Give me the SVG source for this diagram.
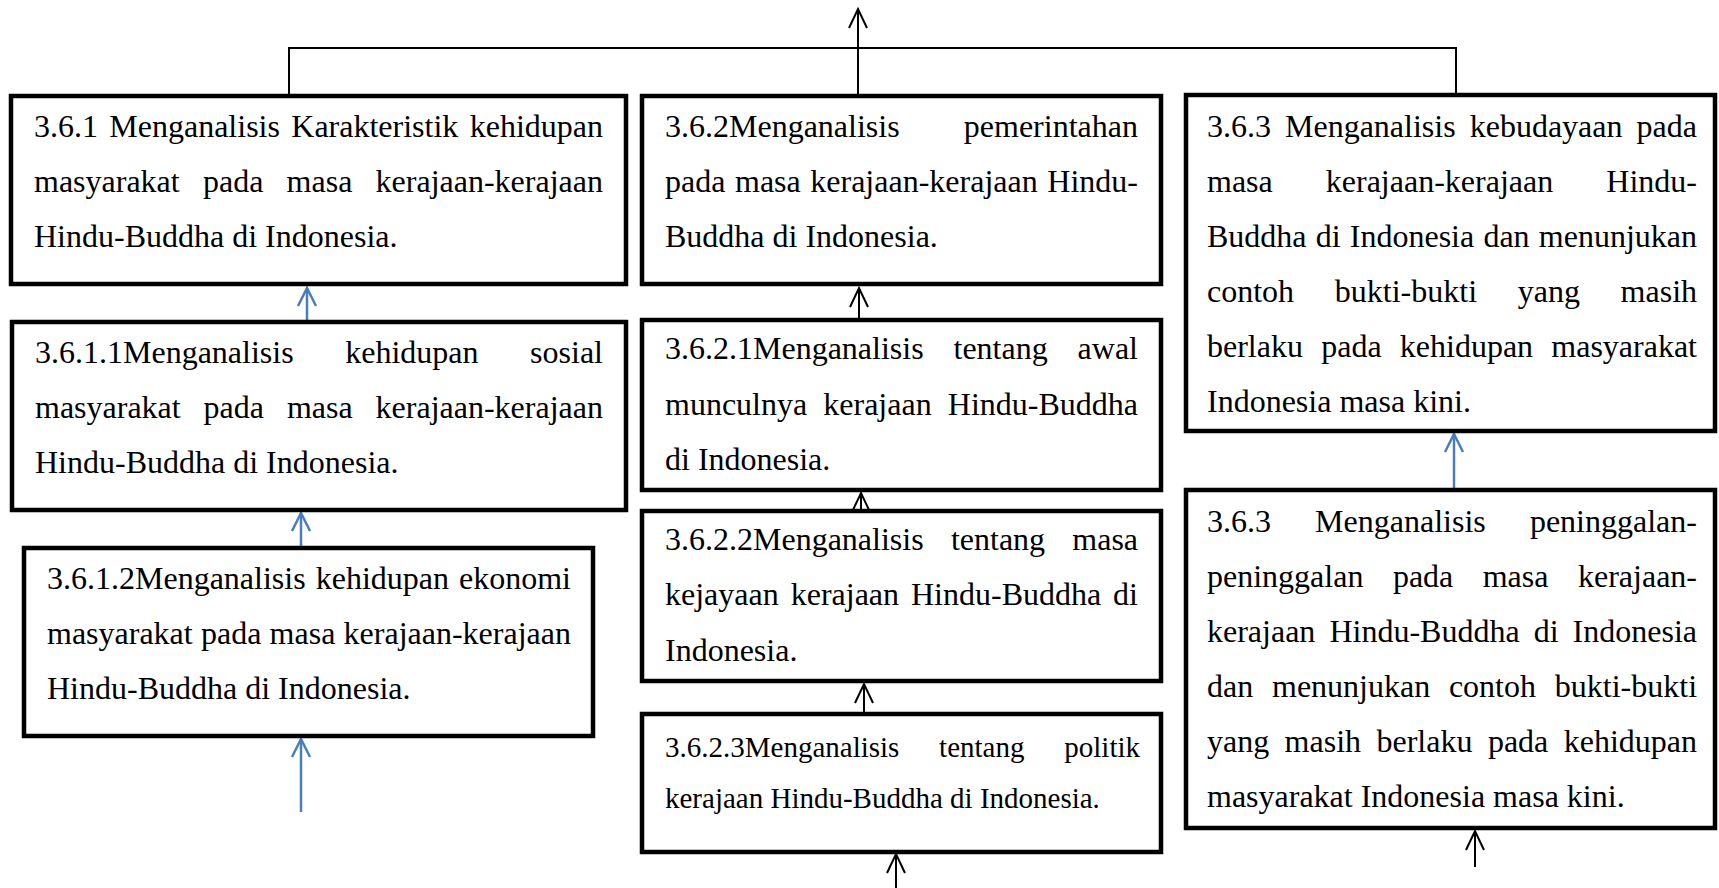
<svg xmlns="http://www.w3.org/2000/svg" width="1719" height="888" viewBox="0 0 1719 888">
  <style>
    .box { fill: #ffffff; stroke: #000000; stroke-width: 4.5; }
    .t { font-family: "Liberation Serif", "Times New Roman", serif; font-size: 32px; fill: #000000; }
    .ts { font-family: "Liberation Serif", "Times New Roman", serif; font-size: 29px; fill: #000000; }
    .wire { fill: none; stroke: #000000; stroke-width: 2; }
    .blk { fill: none; stroke: #000000; stroke-width: 2; marker-end: url(#headBlack); }
    .blu { fill: none; stroke: #4a7ebb; stroke-width: 2.5; marker-end: url(#headBlue); }
  </style>
  <defs>
    <marker id="headBlack" markerUnits="userSpaceOnUse" markerWidth="24" markerHeight="24" refX="0" refY="0" orient="auto" overflow="visible">
      <path d="M-19,-9 L0,0 L-19,9" fill="none" stroke="#000000" stroke-width="2"/>
    </marker>
    <marker id="headBlue" markerUnits="userSpaceOnUse" markerWidth="24" markerHeight="24" refX="0" refY="0" orient="auto" overflow="visible">
      <path d="M-18,-9 L0,0 L-18,9" fill="none" stroke="#4a7ebb" stroke-width="2.5"/>
    </marker>
  </defs>

  <rect x="0" y="0" width="1719" height="888" fill="#ffffff"/>

  <!-- connectors -->
  <g id="connectors">
    <path class="wire" d="M289,94 V48 H1456 V93" stroke-width="2.5"/>
    <path class="blk" d="M858,94 V9"/>
    <path class="blk" d="M859,318 V288"/>
    <path class="blk" d="M861,509 V493"/>
    <path class="blk" d="M864,712 V684"/>
    <path class="blk" d="M896,888 V854"/>
    <path class="blk" d="M1475,867 V831"/>
    <path class="blu" d="M307,320 V288"/>
    <path class="blu" d="M301,546 V513"/>
    <path class="blu" d="M301,812 V739"/>
    <path class="blu" d="M1454,488 V434"/>
  </g>

  <!-- 3.6.1 -->
  <g id="n361">
    <rect class="box" x="11" y="96" width="615" height="188"/>
    <text class="t" y="137"><tspan x="34">3.6.1</tspan><tspan x="109.3">Menganalisis</tspan><tspan x="291.3">Karakteristik</tspan><tspan x="469.7">kehidupan</tspan></text>
    <text class="t" y="192"><tspan x="34">masyarakat</tspan><tspan x="203">pada</tspan><tspan x="286.6">masa</tspan><tspan x="375.6">kerajaan-kerajaan</tspan></text>
    <text class="t" x="34" y="247">Hindu-Buddha di Indonesia.</text>
  </g>

  <!-- 3.6.2 -->
  <g id="n362">
    <rect class="box" x="642" y="96" width="519" height="188"/>
    <text class="t" y="137"><tspan x="665">3.6.2Menganalisis</tspan><tspan x="963.8">pemerintahan</tspan></text>
    <text class="t" y="192"><tspan x="665">pada</tspan><tspan x="735">masa</tspan><tspan x="810.3">kerajaan-kerajaan</tspan><tspan x="1047.3">Hindu-</tspan></text>
    <text class="t" x="665" y="247">Buddha di Indonesia.</text>
  </g>

  <!-- 3.6.3 (kebudayaan) -->
  <g id="n363a">
    <rect class="box" x="1186" y="95" width="529" height="336"/>
    <text class="t" y="137"><tspan x="1207">3.6.3</tspan><tspan x="1285">Menganalisis</tspan><tspan x="1469.7">kebudayaan</tspan><tspan x="1636.6">pada</tspan></text>
    <text class="t" y="192"><tspan x="1207">masa</tspan><tspan x="1325.8">kerajaan-kerajaan</tspan><tspan x="1606.3">Hindu-</tspan></text>
    <text class="t" y="247"><tspan x="1207">Buddha</tspan><tspan x="1315.7">di</tspan><tspan x="1349.8">Indonesia</tspan><tspan x="1483.4">dan</tspan><tspan x="1538.8">menunjukan</tspan></text>
    <text class="t" y="302"><tspan x="1207">contoh</tspan><tspan x="1334.8">bukti-bukti</tspan><tspan x="1517.7">yang</tspan><tspan x="1620.6">masih</tspan></text>
    <text class="t" y="357"><tspan x="1207">berlaku</tspan><tspan x="1321.2">pada</tspan><tspan x="1399.8">kehidupan</tspan><tspan x="1551.3">masyarakat</tspan></text>
    <text class="t" x="1207" y="412">Indonesia masa kini.</text>
  </g>

  <!-- 3.6.1.1 -->
  <g id="n3611">
    <rect class="box" x="12" y="322" width="614" height="188"/>
    <text class="t" y="363"><tspan x="35">3.6.1.1Menganalisis</tspan><tspan x="345.2">kehidupan</tspan><tspan x="530.1">sosial</tspan></text>
    <text class="t" y="418"><tspan x="35">masyarakat</tspan><tspan x="203.6">pada</tspan><tspan x="286.9">masa</tspan><tspan x="375.6">kerajaan-kerajaan</tspan></text>
    <text class="t" x="35" y="473">Hindu-Buddha di Indonesia.</text>
  </g>

  <!-- 3.6.1.2 -->
  <g id="n3612">
    <rect class="box" x="24" y="548" width="569" height="188"/>
    <text class="t" y="589"><tspan x="47">3.6.1.2Menganalisis</tspan><tspan x="315.7">kehidupan</tspan><tspan x="459">ekonomi</tspan></text>
    <text class="t" y="644"><tspan x="47">masyarakat</tspan><tspan x="201">pada</tspan><tspan x="269.6">masa</tspan><tspan x="343.6">kerajaan-kerajaan</tspan></text>
    <text class="t" x="47" y="699">Hindu-Buddha di Indonesia.</text>
  </g>

  <!-- 3.6.2.1 -->
  <g id="n3621">
    <rect class="box" x="642" y="320" width="519" height="170"/>
    <text class="t" y="359"><tspan x="665">3.6.2.1Menganalisis</tspan><tspan x="953.5">tentang</tspan><tspan x="1077.6">awal</tspan></text>
    <text class="t" y="415"><tspan x="665">munculnya</tspan><tspan x="823.3">kerajaan</tspan><tspan x="947.8">Hindu-Buddha</tspan></text>
    <text class="t" x="665" y="470">di Indonesia.</text>
  </g>

  <!-- 3.6.2.2 -->
  <g id="n3622">
    <rect class="box" x="642" y="511" width="519" height="170"/>
    <text class="t" y="550"><tspan x="665">3.6.2.2Menganalisis</tspan><tspan x="950.9">tentang</tspan><tspan x="1072.3">masa</tspan></text>
    <text class="t" y="605"><tspan x="665">kejayaan</tspan><tspan x="790.7">kerajaan</tspan><tspan x="911">Hindu-Buddha</tspan><tspan x="1113.1">di</tspan></text>
    <text class="t" x="665" y="661">Indonesia.</text>
  </g>

  <!-- 3.6.2.3 -->
  <g id="n3623">
    <rect class="box" x="642" y="714" width="519" height="138"/>
    <text class="ts" y="757"><tspan x="665">3.6.2.3Menganalisis</tspan><tspan x="939.1">tentang</tspan><tspan x="1064.3">politik</tspan></text>
    <text class="ts" x="665" y="808">kerajaan Hindu-Buddha di Indonesia.</text>
  </g>

  <!-- 3.6.3 (peninggalan) -->
  <g id="n363b">
    <rect class="box" x="1186" y="490" width="529" height="338"/>
    <text class="t" y="532"><tspan x="1207">3.6.3</tspan><tspan x="1315.1">Menganalisis</tspan><tspan x="1529.9">peninggalan-</tspan></text>
    <text class="t" y="587"><tspan x="1207">peninggalan</tspan><tspan x="1392.9">pada</tspan><tspan x="1482.7">masa</tspan><tspan x="1578">kerajaan-</tspan></text>
    <text class="t" y="642"><tspan x="1207">kerajaan</tspan><tspan x="1329.4">Hindu-Buddha</tspan><tspan x="1533.7">di</tspan><tspan x="1572.6">Indonesia</tspan></text>
    <text class="t" y="697"><tspan x="1207">dan</tspan><tspan x="1272">menunjukan</tspan><tspan x="1448.9">contoh</tspan><tspan x="1554.8">bukti-bukti</tspan></text>
    <text class="t" y="752"><tspan x="1207">yang</tspan><tspan x="1284.6">masih</tspan><tspan x="1376.5">berlaku</tspan><tspan x="1487.9">pada</tspan><tspan x="1563.7">kehidupan</tspan></text>
    <text class="t" x="1207" y="807">masyarakat Indonesia masa kini.</text>
  </g>
</svg>
